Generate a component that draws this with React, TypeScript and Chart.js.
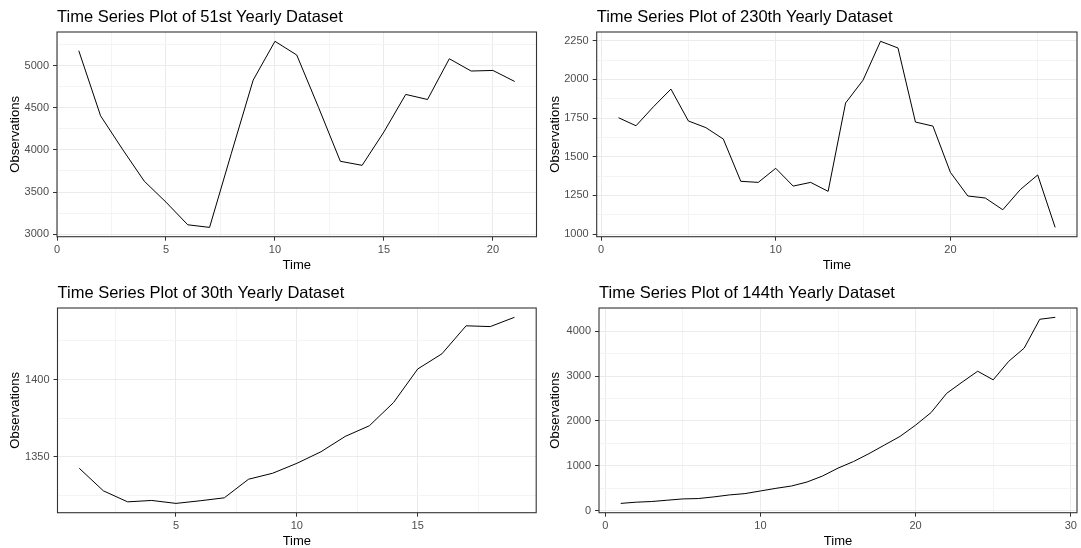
import React, { useEffect, useRef } from 'react';
import { Chart, registerables } from 'chart.js';

Chart.register(...registerables);

const FONT = '"Liberation Sans", Arial, sans-serif';

// ---- Data ----
const time51 = [1, 2, 3, 4, 5, 6, 7, 8, 9, 10, 11, 12, 13, 14, 15, 16, 17, 18, 19, 20, 21];
const values51 = [5178, 4405, 4010, 3630, 3380, 3111, 3080, 3960, 4829, 5290, 5127, 4505, 3865, 3817, 4214, 4659, 4599, 5083, 4937, 4944, 4813];
const xBreaks51 = [0, 5, 10, 15, 20];
const yBreaks51 = [3000, 3500, 4000, 4500, 5000];

const time230 = [1, 2, 3, 4, 5, 6, 7, 8, 9, 10, 11, 12, 13, 14, 15, 16, 17, 18, 19, 20, 21, 22, 23, 24, 25, 26];
const values230 = [1752, 1700, 1823, 1937, 1731, 1688, 1614, 1341, 1334, 1425, 1310, 1334, 1276, 1847, 1995, 2246, 2203, 1724, 1698, 1399, 1246, 1233, 1157, 1287, 1382, 1043];
const xBreaks230 = [0, 10, 20];
const yBreaks230 = [1000, 1250, 1500, 1750, 2000, 2250];

const time30 = [1, 2, 3, 4, 5, 6, 7, 8, 9, 10, 11, 12, 13, 14, 15, 16, 17, 18, 19];
const values30 = [1342.7, 1328.1, 1321.0, 1321.9, 1320.0, 1321.7, 1323.6, 1335.6, 1339.5, 1345.9, 1353.4, 1363.3, 1370.2, 1385.2, 1406.9, 1416.7, 1434.8, 1434.3, 1440.3];
const xBreaks30 = [5, 10, 15];
const yBreaks30 = [1350, 1400];

const time144 = [1, 2, 3, 4, 5, 6, 7, 8, 9, 10, 11, 12, 13, 14, 15, 16, 17, 18, 19, 20, 21, 22, 23, 24, 25, 26, 27, 28, 29];
const values144 = [158, 185, 200, 229, 258, 266, 303, 347, 376, 435, 494, 546, 635, 768, 945, 1092, 1269, 1461, 1653, 1904, 2185, 2613, 2864, 3107, 2915, 3328, 3624, 4266, 4310];
const xBreaks144 = [0, 10, 20, 30];
const yBreaks144 = [0, 1000, 2000, 3000, 4000];

// ---- Layout (canvas placement and plot-box edges within each canvas) ----
const CANVAS_H = 274;
const panels = [
  { title: 'Time Series Plot of 51st Yearly Dataset', time: time51, values: values51, xBreaks: xBreaks51, yBreaks: yBreaks51,
    left: 0, top: 0, width: 540, box: { l: 57, t: 32, r: 536.5, b: 236.7 } },
  { title: 'Time Series Plot of 230th Yearly Dataset', time: time230, values: values230, xBreaks: xBreaks230, yBreaks: yBreaks230,
    left: 540, top: 0, width: 541, box: { l: 56.7, t: 32, r: 537, b: 236.7 } },
  { title: 'Time Series Plot of 30th Yearly Dataset', time: time30, values: values30, xBreaks: xBreaks30, yBreaks: yBreaks30,
    left: 0, top: 274, width: 540, box: { l: 57.5, t: 34, r: 536.2, b: 238.7 } },
  { title: 'Time Series Plot of 144th Yearly Dataset', time: time144, values: values144, xBreaks: xBreaks144, yBreaks: yBreaks144,
    left: 540, top: 274, width: 541, box: { l: 59, t: 34, r: 537, b: 238.7 } },
];

function expandRange(arr: number[]) {
  const mn = Math.min(...arr);
  const mx = Math.max(...arr);
  const d = (mx - mn) * 0.05;
  return [mn - d, mx + d];
}

function allGridValues(breaks: number[], lo: number, hi: number) {
  const step = breaks.length > 1 ? breaks[1] - breaks[0] : 1;
  const out: number[] = [];
  const start = breaks[0] - step;
  const end = breaks[breaks.length - 1] + step;
  for (let v = start; v <= end + 1e-9; v += step / 2) {
    if (v >= lo - 1e-9 && v <= hi + 1e-9) out.push(v);
  }
  return out;
}

const isIn = (v: number, arr: number[]) => arr.some((b) => Math.abs(b - v) < 1e-6);

const borderPlugin = {
  id: 'panelBorder',
  afterDraw(chart: any) {
    const { ctx, chartArea } = chart;
    ctx.save();
    ctx.strokeStyle = '#333333';
    ctx.lineWidth = 1.1;
    ctx.strokeRect(chartArea.left, chartArea.top, chartArea.right - chartArea.left, chartArea.bottom - chartArea.top);
    ctx.restore();
  },
};

function Panel({ cfg }: { cfg: any }) {
  const ref = useRef<HTMLCanvasElement>(null);
  useEffect(() => {
    const [xmin, xmax] = expandRange(cfg.time);
    const [ymin, ymax] = expandRange(cfg.values);
    const xGrid = allGridValues(cfg.xBreaks, xmin, xmax);
    const yGrid = allGridValues(cfg.yBreaks, ymin, ymax);
    const box = cfg.box;
    const titleSize = 16.5;
    const titleLH = titleSize * 1.2;
    const xAxisH = 35;

    const gridColor = (breaks: number[]) => (ctx: any) =>
      ctx.tick && isIn(ctx.tick.value, breaks) ? '#EBEBEB' : '#F4F4F4';
    const tickColor = (breaks: number[]) => (ctx: any) =>
      ctx.tick && isIn(ctx.tick.value, breaks) ? '#333333' : 'rgba(0,0,0,0)';

    const chart = new Chart(ref.current as HTMLCanvasElement, {
      type: 'line',
      data: {
        datasets: [
          {
            data: cfg.time.map((t: number, i: number) => ({ x: t, y: cfg.values[i] })),
            borderColor: '#000000',
            borderWidth: 1,
            pointRadius: 0,
            tension: 0,
            fill: false,
          },
        ],
      },
      options: {
        animation: false,
        responsive: false,
        devicePixelRatio: 1,
        layout: {
          padding: { left: 0, top: 0, right: cfg.width - box.r, bottom: CANVAS_H - box.b - xAxisH },
        },
        plugins: {
          legend: { display: false },
          tooltip: { enabled: false },
          title: {
            display: true,
            text: cfg.title,
            align: 'start',
            fullSize: false,
            color: '#000000',
            font: { family: FONT, size: titleSize, weight: 'normal', lineHeight: 1.2 },
            padding: { top: box.t - titleLH - 4.5, bottom: 4.5 },
          },
        },
        scales: {
          x: {
            type: 'linear',
            min: xmin,
            max: xmax,
            afterBuildTicks: (s: any) => {
              s.ticks = xGrid.map((v) => ({ value: v }));
            },
            afterFit: (s: any) => {
              s.height = xAxisH;
            },
            ticks: {
              autoSkip: false,
              maxRotation: 0,
              minRotation: 0,
              padding: 3,
              color: '#4D4D4D',
              font: { family: FONT, size: 11 },
              callback: (v: any) => (isIn(Number(v), cfg.xBreaks) ? String(Math.round(Number(v))) : ''),
            },
            grid: {
              color: gridColor(cfg.xBreaks),
              lineWidth: 1,
              drawTicks: true,
              tickLength: 4,
              tickWidth: 1,
              tickColor: tickColor(cfg.xBreaks),
            },
            border: { display: false },
            title: {
              display: true,
              text: 'Time',
              color: '#000000',
              font: { family: FONT, size: 13, lineHeight: 1.2 },
              padding: { top: 0, bottom: -2 },
            },
          },
          y: {
            type: 'linear',
            min: ymin,
            max: ymax,
            afterBuildTicks: (s: any) => {
              s.ticks = yGrid.map((v) => ({ value: v }));
            },
            afterFit: (s: any) => {
              s.width = box.l;
            },
            ticks: {
              autoSkip: false,
              padding: 4,
              color: '#4D4D4D',
              font: { family: FONT, size: 11 },
              callback: (v: any) => (isIn(Number(v), cfg.yBreaks) ? String(Math.round(Number(v))) : ''),
            },
            grid: {
              color: gridColor(cfg.yBreaks),
              lineWidth: 1,
              drawTicks: true,
              tickLength: 4,
              tickWidth: 1,
              tickColor: tickColor(cfg.yBreaks),
            },
            border: { display: false },
            title: {
              display: true,
              text: 'Observations',
              color: '#000000',
              font: { family: FONT, size: 13, lineHeight: 1.2 },
              padding: { top: 8, bottom: 0 },
            },
          },
        },
      } as any,
      plugins: [borderPlugin],
    });
    return () => chart.destroy();
  }, [cfg]);

  return (
    <canvas
      ref={ref}
      width={cfg.width}
      height={CANVAS_H}
      style={{ position: 'absolute', left: cfg.left, top: cfg.top, width: cfg.width, height: CANVAS_H }}
    />
  );
}

export default function App() {
  return (
    <div style={{ position: 'fixed', left: 0, top: 0, width: 1081, height: 548, background: '#ffffff', overflow: 'hidden' }}>
      {panels.map((p, i) => (
        <Panel key={i} cfg={p} />
      ))}
    </div>
  );
}
